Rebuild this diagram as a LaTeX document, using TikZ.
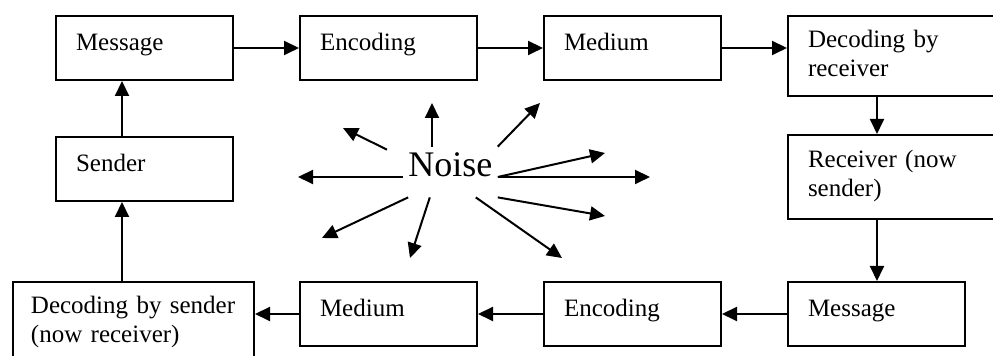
\documentclass[tikz,border=0pt]{standalone}
\usepackage{fontspec}
\setmainfont{Liberation Serif}
\usetikzlibrary{
  arrows.meta,
  positioning
}

\begin{document}
\begin{tikzpicture}[
  x=0.5pt, y=-0.5pt,
  box/.style={draw, line width=1pt, inner xsep=10pt, inner ysep=0pt,
              text width=68.5pt, align=left,
              font=\fontsize{12.5}{14.5}\selectfont,
              text height=17.5pt, text depth=14.5pt},
  tallbox/.style={box, text width=93.5pt, text height=16pt},
  arr/.style={-{Triangle[length=7.5pt, width=7pt]}, line width=1pt}
]
  \path[use as bounding box] (0,0) rectangle (993,356);
  \clip (0,0) rectangle (993,356);
  \fill[white] (0,0) rectangle (993,356);

  % Top row
  \node[box, anchor=north west] (msg) at (55,15) {Message};
  \node[box, right=32.5pt of msg.north east, anchor=north west] (enc) {Encoding};
  \node[box, right=32.5pt of enc.north east, anchor=north west] (med) {Medium};
  \node[tallbox, text depth=24pt, right=32.5pt of med.north east, anchor=north west] (decrcv) {Decoding by\\receiver};
  % Right column
  \node[tallbox, text height=16.5pt, text depth=25.5pt, below=18.5pt of decrcv.south west, anchor=north west] (rcv) {Receiver (now\\sender)};
  % Bottom row
  \node[box, below=30.5pt of rcv.south west, anchor=north west] (msgb) {Message};
  \node[box, left=32.5pt of msgb] (encb) {Encoding};
  \node[box, left=32.5pt of encb] (medb) {Medium};
  \node[box, inner xsep=9pt, text width=102.5pt, text height=16pt, text depth=30pt,
        left=22pt of medb.north west, anchor=north east] (decsnd) {Decoding by sender\\(now receiver)};
  % Left column
  \node[box, below=27.5pt of msg] (snd) {Sender};

  \draw[arr] (msg) -- (enc);
  \draw[arr] (enc) -- (med);
  \draw[arr] (med.east) -- (med.east -| decrcv.west);
  \draw[arr] ([xshift=45pt]decrcv.south west) -- ([xshift=45pt]rcv.north west);
  \draw[arr] ([xshift=45pt]rcv.south west) -- ([xshift=45pt]msgb.north west);
  \draw[arr] (msgb) -- (encb);
  \draw[arr] (encb) -- (medb);
  \draw[arr] (medb.west) -- (medb.west -| decsnd.east);
  \draw[arr] ([xshift=55pt]decsnd.north west) -- ([xshift=33.5pt]snd.south west);
  \draw[arr] ([xshift=33.5pt]snd.north west) -- ([xshift=33.5pt]msg.south west);

  % Noise in the middle
  \node[inner xsep=2.5pt, inner ysep=3pt, text height=12pt, text depth=7pt,
        font=\fontsize{18}{21}\selectfont, anchor=base west] (noise) at (403,177) {Noise};
  \coordinate (n1) at (298,177);
  \coordinate (n2) at (343,128);
  \coordinate (n3) at (432,103);
  \coordinate (n4) at (540,103);
  \coordinate (n5) at (605,153);
  \coordinate (n6) at (650,177);
  \coordinate (n7) at (605,216);
  \coordinate (n8) at (562,258);
  \coordinate (n9) at (410,258);
  \coordinate (n10) at (322,238);

  \draw[arr] (noise.base west) -- (n1);
  \draw[arr, shorten <=8.9pt] (noise.163) -- (n2);
  \draw[arr] (n3 |- noise.north) -- (n3);
  \draw[arr] (noise.north east) -- (n4);
  \draw[arr] (noise.base east) -- (n5);
  \draw[arr] (noise.base east) -- (n6);
  \draw[arr] (noise.south east) -- (n7);
  \draw[arr] (noise.-45) -- (n8);
  \draw[arr] (noise.-129) -- (n9);
  \draw[arr] (noise.-149) -- (n10);
\end{tikzpicture}
\end{document}
